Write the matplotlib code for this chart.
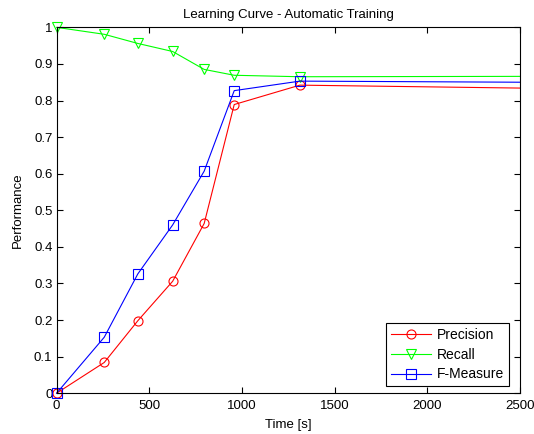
import numpy as np
import matplotlib
matplotlib.use('Agg')
import matplotlib.pyplot as plt

plt.rcParams['font.family'] = ['Liberation Sans', 'DejaVu Sans']

# time points in seconds (last point has no marker)
time_s = [0, 257, 438, 626, 796, 958, 1312, 2500]
precision = [0.0, 0.084, 0.198, 0.306, 0.464, 0.789, 0.842, 0.834]
recall = [1.0, 0.981, 0.956, 0.934, 0.885, 0.869, 0.865, 0.866]
f_measure = [0.0, 0.153, 0.326, 0.460, 0.607, 0.827, 0.853, 0.850]

fig = plt.figure(figsize=(5.34, 4.34), dpi=100)
ax = fig.add_axes([0.106, 0.094, 0.868, 0.843])

marks = list(range(len(time_s) - 1))
ax.plot(time_s, precision, color='#ff0000', marker='o', mfc='none', ms=6.5,
        lw=0.8, mew=0.8, markevery=marks, label='Precision', clip_on=False)
ax.plot(time_s, recall, color='#00ff00', marker='v', mfc='none', ms=6.5,
        lw=0.8, mew=0.8, markevery=marks, label='Recall', clip_on=False)
ax.plot(time_s, f_measure, color='#0000ff', marker='s', mfc='none', ms=6.5,
        lw=0.8, mew=0.8, markevery=marks, label='F-Measure', clip_on=False)

ax.set_xlim(0, 2500)
ax.set_ylim(0, 1)
ax.set_xticks(np.arange(0, 2501, 500))
ax.set_yticks(np.arange(0, 1.01, 0.1))
ax.set_yticklabels(['0', '0.1', '0.2', '0.3', '0.4', '0.5', '0.6', '0.7', '0.8', '0.9', '1'])
ax.tick_params(direction='in', top=True, right=True, labelsize=9.5, length=4)
ax.tick_params(axis='x', pad=5)
ax.tick_params(axis='y', pad=3)
for s in ax.spines.values():
    s.set_linewidth(0.8)

ax.set_xlabel('Time [s]', fontsize=9.5, labelpad=5)
ax.set_ylabel('Performance', fontsize=9.5, labelpad=7)
ax.set_title('Learning Curve - Automatic Training', fontsize=9.5, pad=7)

leg = ax.legend(loc='lower right', fontsize=10, fancybox=False, framealpha=1,
                edgecolor='black', borderaxespad=0.5, handlelength=2.9,
                handletextpad=0.4, labelspacing=0.4, borderpad=0.35,
                bbox_to_anchor=(0.99, 0.0))
leg.get_frame().set_linewidth(0.8)

fig.savefig('out.png', dpi=100)
